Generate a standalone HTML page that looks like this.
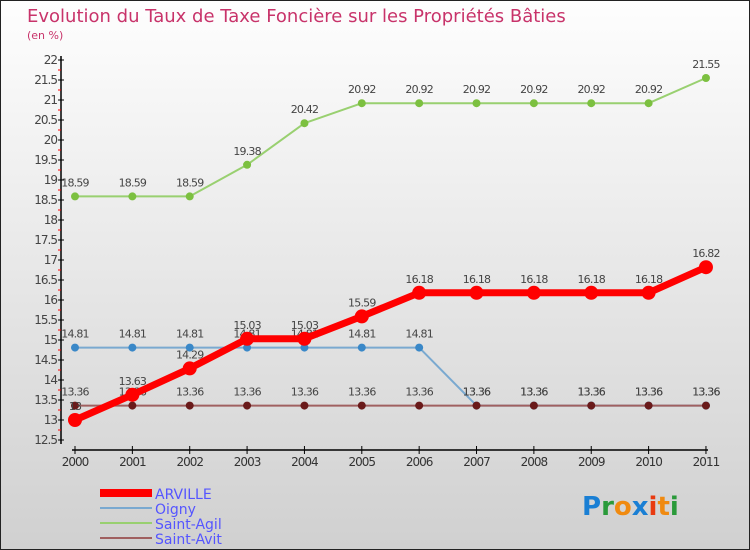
<!DOCTYPE html>
<html><head><meta charset="utf-8"><style>
body{margin:0}
svg{display:block;font-family:"DejaVu Sans","Liberation Sans",sans-serif}
</style></head><body>
<svg id="c" width="750" height="550" xmlns="http://www.w3.org/2000/svg">
<defs><linearGradient id="bg" x1="0" y1="0" x2="0" y2="1"><stop offset="0" stop-color="#fefefe"/><stop offset="1" stop-color="#d0d0d0"/></linearGradient></defs>
<rect x="0.5" y="0.5" width="749" height="549" fill="url(#bg)" stroke="#222"/>
<text x="27" y="22" font-size="18" fill="#c8336a">Evolution du Taux de Taxe Foncière sur les Propriétés Bâties</text>
<text x="27" y="39" font-size="11" fill="#c8336a">(en %)</text>
<g id="axes"></g><g id="series"></g>
<g>
<rect x="100" y="489" width="52" height="8" fill="#f00"/>
<text x="155" y="499" font-size="14" fill="#5555ff">ARVILLE</text>
<line x1="100" y1="508" x2="152" y2="508" stroke="#7aa9d0" stroke-width="2"/>
<text x="155" y="514" font-size="14" fill="#5555ff">Oigny</text>
<line x1="100" y1="523" x2="152" y2="523" stroke="#99d070" stroke-width="2"/>
<text x="155" y="529" font-size="14" fill="#5555ff">Saint-Agil</text>
<line x1="100" y1="538" x2="152" y2="538" stroke="#a06060" stroke-width="2"/>
<text x="155" y="544" font-size="14" fill="#5555ff">Saint-Avit</text>
</g>
<text x="582" y="515" font-size="26" font-weight="bold"><tspan fill="#1a7fd4">P</tspan><tspan fill="#2a9a3a">r</tspan><tspan fill="#f08a10">o</tspan><tspan fill="#1a7fd4">x</tspan><tspan fill="#e83a10">i</tspan><tspan fill="#f08a10">t</tspan><tspan fill="#2a9a3a">i</tspan></text>
</svg>
<script>
const years=[2000,2001,2002,2003,2004,2005,2006,2007,2008,2009,2010,2011];
const arville=[13,13.63,14.29,15.03,15.03,15.59,16.18,16.18,16.18,16.18,16.18,16.82];
const oigny=[14.81,14.81,14.81,14.81,14.81,14.81,14.81,13.36,13.36,13.36,13.36,13.36];
const saintAgil=[18.59,18.59,18.59,19.38,20.42,20.92,20.92,20.92,20.92,20.92,20.92,21.55];
const saintAvit=[13.36,13.36,13.36,13.36,13.36,13.36,13.36,13.36,13.36,13.36,13.36,13.36];
const yTicks=[12.5,13,13.5,14,14.5,15,15.5,16,16.5,17,17.5,18,18.5,19,19.5,20,20.5,21,21.5,22];
const NS="http://www.w3.org/2000/svg";
const xs=i=>75+i*57.36;
const ys=v=>440-(v-12.5)*40;
function mk(t,a,p){const e=document.createElementNS(NS,t);for(const k in a)e.setAttribute(k,a[k]);p.appendChild(e);return e;}
const ax=document.getElementById('axes');
let e=mk('line',{x1:61,y1:56,x2:61,y2:444,stroke:'#000','stroke-width':1.5},ax);

e=mk('line',{x1:72,y1:450,x2:708,y2:450,stroke:'#000','stroke-width':1.5},ax);

yTicks.forEach(v=>{
 const y=ys(v);
 mk('line',{x1:58,y1:y,x2:64,y2:y,stroke:'#000'},ax);
 if(v<22)mk('line',{x1:58,y1:y-10,x2:61,y2:y-10,stroke:'#f00'},ax);
 const t=mk('text',{x:57,y:y+4,'font-size':12,fill:'#444','text-anchor':'end','letter-spacing':'-1'},ax);
 t.textContent=String(v);
 
});
years.forEach((yr,i)=>{
 const x=xs(i);
 mk('line',{x1:x,y1:446,x2:x,y2:454,stroke:'#000'},ax);
 const t=mk('text',{x:x,y:466,'font-size':12,fill:'#333','text-anchor':'middle','letter-spacing':'-1'},ax);
 t.textContent=yr;
 
});
const sg=document.getElementById('series');
function series(vals,name,color,lw,r,dot){
 const g=mk('g',{},sg);
 
 mk('polyline',{points:vals.map((v,i)=>xs(i)+','+ys(v)).join(' '),fill:'none',stroke:color,'stroke-width':lw,'stroke-linejoin':'round'},g);
 vals.forEach((v,i)=>{
  const c=mk('circle',{cx:xs(i),cy:ys(v),r:r,fill:dot},g);
  
  const t=mk('text',{x:xs(i),y:ys(v)-10,'font-size':11,fill:'#444','text-anchor':'middle','letter-spacing':'-0.8'},g);
  t.textContent=String(v);
  
 });
}
series(oigny,'oigny','#7aa9d0',2,4,'#3a88c8');
series(saintAgil,'saint-agil','#99d070',2,4,'#7cc040');
series(saintAvit,'saint-avit','#a06060',2,4,'#6a1a1a');
series(arville,'arville','#f00',7,7,'#f00');
</script>
</body></html>
